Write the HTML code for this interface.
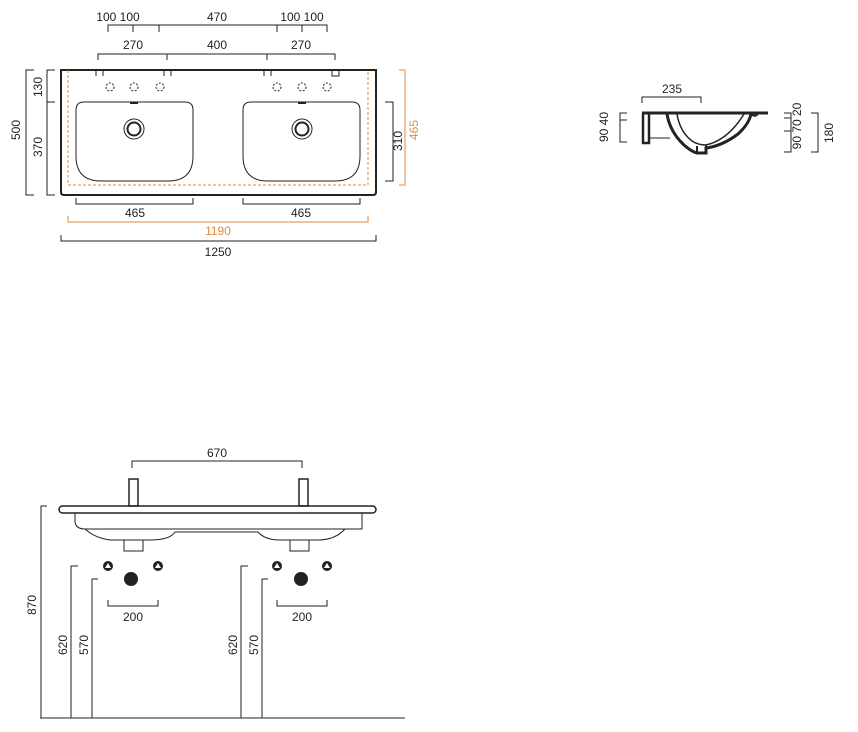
<!DOCTYPE html>
<html><head><style>body{margin:0;background:#fff}svg{display:block}text{font-family:"Liberation Sans",sans-serif;font-size:12px;fill:#222}</style></head><body>
<svg width="858" height="732" viewBox="0 0 858 732" xmlns="http://www.w3.org/2000/svg">
<g fill="none" stroke="#222" stroke-width="1">
<path d="M108,32V25H327V32M133,25V32M159,25V32M277,25V32M302,25V32"/>
<path d="M98,60V54H335V60M167,54V60M267,54V60"/>
<path d="M61,70H376V192Q376,195 373,195H64Q61,195 61,192Z" stroke-width="2"/>
<path d="M96,70V76M103,70V76M164,70V76M171,70V76M264,70V76M271,70V76"/>
<rect x="332" y="70" width="7" height="6"/>
<g stroke-dasharray="2,1.5"><circle cx="110" cy="87" r="4"/><circle cx="134" cy="87" r="4"/><circle cx="160" cy="87" r="4"/><circle cx="277" cy="87" r="4"/><circle cx="302" cy="87" r="4"/><circle cx="327" cy="87" r="4"/></g>
<path d="M84,102H185Q193,102 193,110V156Q193,181 168,181H101Q76,181 76,156V110Q76,102 84,102Z"/>
<path d="M251,102H352Q360,102 360,110V156Q360,181 335,181H268Q243,181 243,156V110Q243,102 251,102Z"/>
<circle cx="134" cy="129" r="10"/><circle cx="134" cy="129" r="6.5" stroke-width="2"/>
<circle cx="302" cy="129" r="10"/><circle cx="302" cy="129" r="6.5" stroke-width="2"/>
<path d="M130,103H138M298,103H306" stroke-width="2"/>
<path d="M34,70H26V195H34"/>
<path d="M55,70H47V195H55M47,102H55"/>
<path d="M385,102H393V181H385"/>
<path d="M76,198V204H193V198M243,198V204H360V198"/>
<path d="M61,235V241H376V235"/>
</g>
<g fill="none" stroke="#e08a3c" stroke-width="1">
<path d="M68,70V185H368V70" stroke-dasharray="3,2"/>
<path d="M399,70H405V185H399"/>
<path d="M68,216V222H368V216"/>
</g>
<text x="118" y="21" text-anchor="middle">100 100</text>
<text x="217" y="21" text-anchor="middle">470</text>
<text x="302" y="21" text-anchor="middle">100 100</text>
<text x="133" y="49" text-anchor="middle">270</text>
<text x="217" y="49" text-anchor="middle">400</text>
<text x="301" y="49" text-anchor="middle">270</text>
<text x="135" y="217" text-anchor="middle">465</text>
<text x="301" y="217" text-anchor="middle">465</text>
<text x="218" y="235" text-anchor="middle" style="fill:#e08a3c">1190</text>
<text x="218" y="256" text-anchor="middle">1250</text>
<text transform="translate(20,130) rotate(-90)" text-anchor="middle">500</text>
<text transform="translate(42,87) rotate(-90)" text-anchor="middle">130</text>
<text transform="translate(42,147) rotate(-90)" text-anchor="middle">370</text>
<text transform="translate(402,141) rotate(-90)" text-anchor="middle">310</text>
<text transform="translate(418,130) rotate(-90)" text-anchor="middle" style="fill:#e08a3c">465</text>

<g fill="none" stroke="#222">
<path d="M642,103V97H701V103"/>
<path d="M642,113H768" stroke-width="3"/>
<path d="M643,113V143H649V113" stroke-width="2.5"/>
<path d="M649,138H670"/>
<path d="M667,114Q670,132 684,145Q692,152 697,153H706V148Q722,146 738,134Q749,124 751,114" stroke-width="3"/>
<path d="M677,114Q680,132 692,141Q698,145 706,145Q728,140 744,114" stroke-width="1.5"/>
<path d="M697,146V153M706,145V153" stroke-width="2"/>
<path d="M751,114Q756,118 758,113" stroke-width="2"/>
<path d="M627,113H620V142H627M620,120H627"/>
<path d="M784,113H791V152H784M784,118H791M784,131H791"/>
<path d="M811,113H818V152H811"/>
</g>
<text x="672" y="93" text-anchor="middle">235</text>
<text transform="translate(608,127) rotate(-90)" text-anchor="middle">90 40</text>
<text transform="translate(801,126) rotate(-90)" text-anchor="middle">90 70 20</text>
<text transform="translate(833,133) rotate(-90)" text-anchor="middle">180</text>

<g fill="none" stroke="#222">
<path d="M132,468V461H302V468"/>
<rect x="129" y="479" width="9" height="27" stroke-width="1.5"/>
<rect x="299" y="479" width="9" height="27" stroke-width="1.5"/>
<rect x="59" y="506" width="317" height="7" rx="3.5" stroke-width="1.5"/>
<path d="M75,513V522Q76,529 85,529H362V513"/>
<path d="M85,529Q95,538 110,540H150Q170,540 175,532H258Q265,540 280,540H318Q335,540 345,529"/>
<path d="M124,540V551H143V540M290,540V551H309V540"/>
<path d="M40,718H405"/>
<path d="M47,506H41V718M78,566H71V718M98,579H92V718M248,566H241V718M268,579H262V718"/>
<path d="M108,600V606H158V600M277,600V606H327V600"/>
</g>
<g fill="#222"><circle cx="108" cy="566" r="5"/><circle cx="158" cy="566" r="5"/><circle cx="277" cy="566" r="5"/><circle cx="327" cy="566" r="5"/><circle cx="131" cy="579" r="7"/><circle cx="301" cy="579" r="7"/></g>
<g fill="#fff"><path d="M108,563L111,568H105Z"/><path d="M158,563L161,568H155Z"/><path d="M277,563L280,568H274Z"/><path d="M327,563L330,568H324Z"/></g>
<text x="217" y="457" text-anchor="middle">670</text>
<text x="133" y="621" text-anchor="middle">200</text>
<text x="302" y="621" text-anchor="middle">200</text>
<text transform="translate(36,605) rotate(-90)" text-anchor="middle">870</text>
<text transform="translate(67,645) rotate(-90)" text-anchor="middle">620</text>
<text transform="translate(88,645) rotate(-90)" text-anchor="middle">570</text>
<text transform="translate(237,645) rotate(-90)" text-anchor="middle">620</text>
<text transform="translate(258,645) rotate(-90)" text-anchor="middle">570</text>
</svg>
</body></html>
